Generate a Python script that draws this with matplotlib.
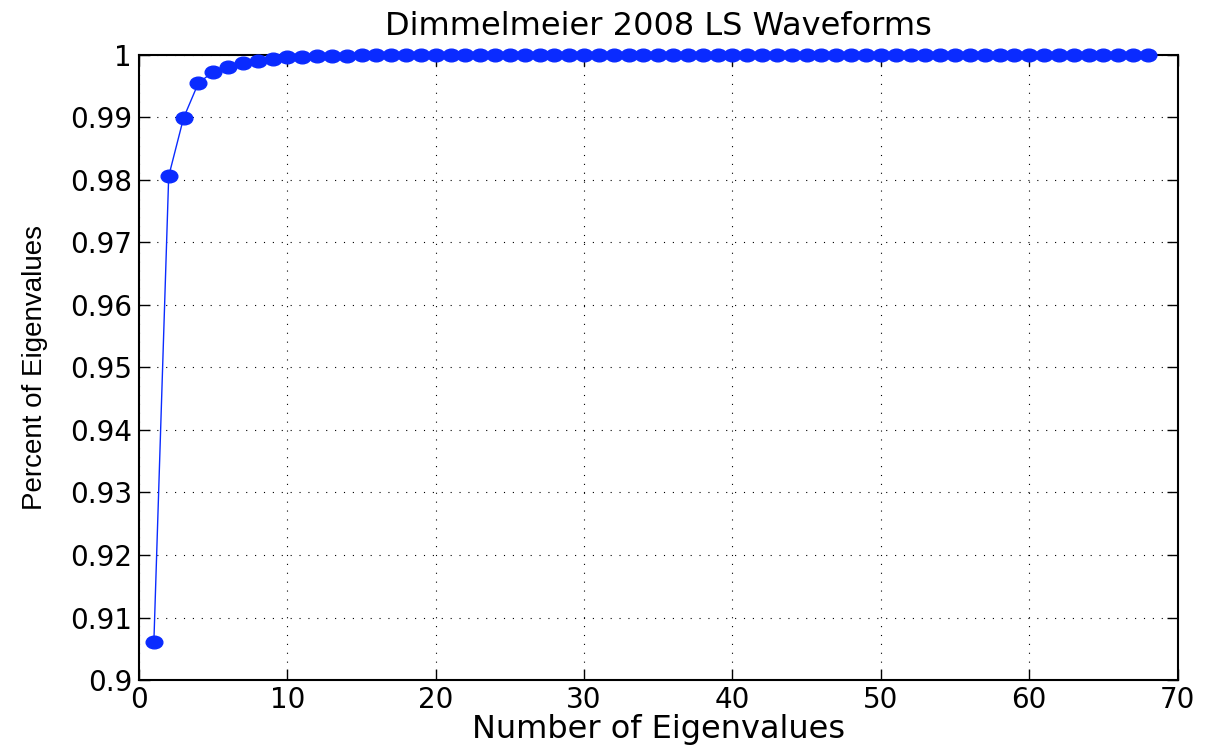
import numpy as np
import matplotlib
matplotlib.use("Agg")
import matplotlib.pyplot as plt
from matplotlib.path import Path
from matplotlib.transforms import Affine2D

# cumulative fraction of eigenvalues
n_eigen = list(range(1, 69))
head = [0.9061, 0.9806, 0.9899, 0.9955, 0.9973, 0.9981, 0.9987, 0.9991,
        0.9994, 0.9996, 0.9997, 0.9998, 0.99985, 0.9999, 0.99993, 0.99995,
        0.99996, 0.99997, 0.99998, 0.99999]
tail = [1.0] * (len(n_eigen) - len(head))
frac = head + tail

title = "Dimmelmeier 2008 LS Waveforms"
x_label = "Number of Eigenvalues"
y_label = "Percent of Eigenvalues"
x_ticks = [0, 10, 20, 30, 40, 50, 60, 70]
y_ticks = [0.9, 0.91, 0.92, 0.93, 0.94, 0.95, 0.96, 0.97, 0.98, 0.99, 1.0]
y_tick_labels = ["0.9", "0.91", "0.92", "0.93", "0.94", "0.95", "0.96",
                 "0.97", "0.98", "0.99", "1"]

plt.rcParams["font.family"] = ["DejaVu Sans"]

# slightly wide ellipse marker (matlab output was stretched)
ell = Path.unit_circle().transformed(Affine2D().scale(1.0, 0.76))

fig = plt.figure(figsize=(12.09, 7.52), dpi=100)
ax = fig.add_axes([0.115, 0.0957, 0.859, 0.8313])

ax.plot(n_eigen, frac, color="#0a2bff", lw=1.0, marker=ell, ms=12,
        markeredgecolor="#0a2bff", markerfacecolor="#0a2bff", clip_on=False, zorder=3)

ax.set_xlim(0, 70)
ax.set_ylim(0.9, 1.0)
ax.set_xticks(x_ticks)
ax.set_yticks(y_ticks)
ax.set_yticklabels(y_tick_labels)
ax.grid(color="k", linestyle=(0, (1, 7)), lw=0.8)
ax.tick_params(axis="both", which="both", direction="in", labelsize=20,
               top=True, right=True, length=8, width=1)
ax.tick_params(axis="y", pad=5)
ax.tick_params(axis="x", pad=4)
for sp in ax.spines.values():
    sp.set_linewidth(1.5)

ax.set_title(title, fontsize=23, pad=14)
ax.set_xlabel(x_label, fontsize=23, labelpad=0)
ax.set_ylabel(y_label, fontsize=20, family=["Liberation Sans", "DejaVu Sans"], labelpad=16)

fig.savefig("out.png", dpi=100)
